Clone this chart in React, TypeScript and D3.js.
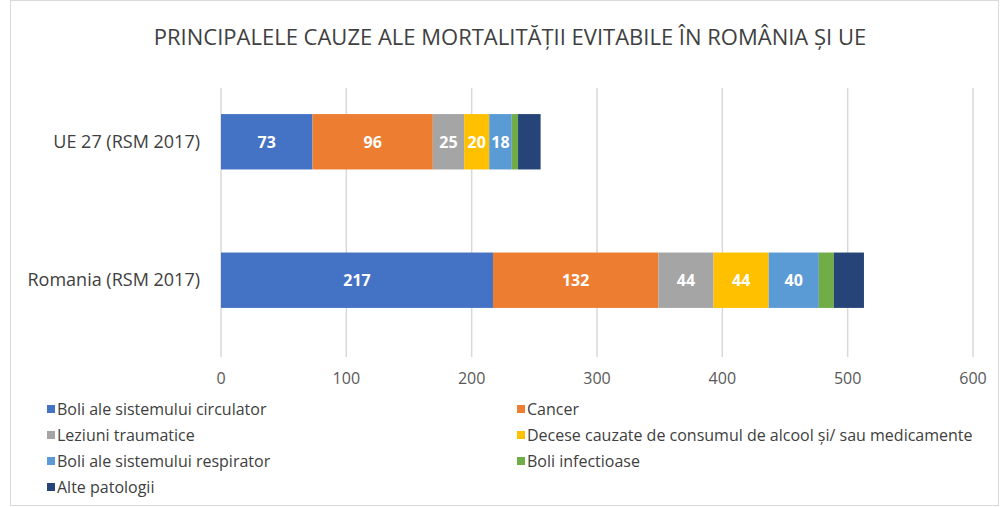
import React from "react";
import * as d3 from "d3";

const categories = ["UE 27 (RSM 2017)", "Romania (RSM 2017)"];
const seriesNames = [
  "Boli ale sistemului circulator",
  "Cancer",
  "Leziuni traumatice",
  "Decese cauzate de consumul de alcool și/ sau medicamente",
  "Boli ale sistemului respirator",
  "Boli infectioase",
  "Alte patologii",
];
const ueValues = [73, 96, 25, 20, 18, 5, 18];
const roValues = [217, 132, 44, 44, 40, 12, 24];
const showLabel = [true, true, true, true, true, false, false];
const colors = ["#4472C4", "#ED7D31", "#A5A5A5", "#FFC000", "#5B9BD5", "#70AD47", "#264478"];
const xTicks = [0, 100, 200, 300, 400, 500, 600];
const title = "PRINCIPALELE CAUZE ALE MORTALITĂȚII EVITABILE ÎN ROMÂNIA ȘI UE";

const W = 1006;
const H = 507;
const font = "'Open Sans', 'Liberation Sans', sans-serif";

const App = () => {
  const valuesByCat = [ueValues, roValues];

  const xScale = d3.scaleLinear().domain([0, 600]).range([221, 973]);
  const yScale = d3.scaleBand<string>()
    .domain(categories)
    .range([31, 391])
    .paddingInner(0.6)
    .paddingOuter(0.6);

  // stack the segments per category
  const rows = categories.map((cat, ci) => {
    const vals = valuesByCat[ci];
    const ends = d3.cumsum(vals);
    return vals.map((v, si) => ({ cat, si, v, x0: ends[si] - v, x1: ends[si] }));
  });

  const legendCols = [47, 517];
  const legendRowY = (i: number) => 409 + Math.floor(i / 2) * 26;

  return (
    <svg width={W} height={H} style={{ position: "absolute", left: 0, top: 0, background: "#fff" }}>
      <rect x={10.5} y={0.5} width={988} height={505} fill="#fff" stroke="#d9d9d9" />
      <text x={510} y={45} textAnchor="middle" fontFamily={font} fontSize={22} fill="#404040">
        {title}
      </text>

      {xTicks.map((t) => (
        <g key={t}>
          <line x1={xScale(t)} x2={xScale(t)} y1={88} y2={357} stroke="#d9d9d9" strokeWidth={1.5} />
          <text x={xScale(t)} y={384} textAnchor="middle" fontFamily={font} fontSize={16} fill="#595959">
            {t}
          </text>
        </g>
      ))}

      {categories.map((cat) => (
        <text
          key={cat}
          x={200}
          y={yScale(cat)! + yScale.bandwidth() / 2 + 6}
          textAnchor="end"
          fontFamily={font}
          fontSize={18}
          fill="#404040"
        >
          {cat}
        </text>
      ))}

      {rows.map((segs) =>
        segs.map((d) => (
          <g key={d.cat + d.si}>
            <rect
              x={xScale(d.x0)}
              y={yScale(d.cat)}
              width={xScale(d.x1) - xScale(d.x0)}
              height={yScale.bandwidth()}
              fill={colors[d.si]}
            />
            {showLabel[d.si] && (
              <text
                x={(xScale(d.x0) + xScale(d.x1)) / 2}
                y={yScale(d.cat)! + yScale.bandwidth() / 2 + 6}
                textAnchor="middle"
                fontFamily={font}
                fontSize={16}
                fontWeight="bold"
                fill="#fff"
              >
                {d.v}
              </text>
            )}
          </g>
        ))
      )}

      {seriesNames.map((name, i) => (
        <g key={name}>
          <rect x={legendCols[i % 2]} y={legendRowY(i) - 4} width={8} height={8} fill={colors[i]} />
          <text x={legendCols[i % 2] + 10} y={legendRowY(i) + 5.5} fontFamily={font} fontSize={16} fill="#404040">
            {name}
          </text>
        </g>
      ))}
    </svg>
  );
};

export default App;
